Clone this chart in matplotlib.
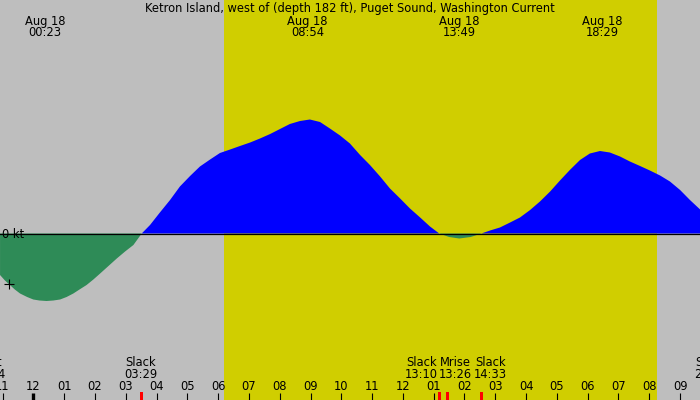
import numpy as np
import matplotlib
matplotlib.use("Agg")
import matplotlib.pyplot as plt

# --- current speed (kt), time in hours after midnight Aug 18 ---
hours = [-1.08, -0.92, -0.76, -0.60, -0.43, -0.20, 0.00, 0.20, 0.43, 0.65, 0.87, 1.08,
         1.30, 1.50, 1.73, 1.95, 2.17, 2.44, 2.71, 2.98, 3.25, 3.52,
         3.79, 4.11, 4.44, 4.76, 5.09, 5.41, 5.74, 6.06, 6.39, 6.71, 7.04, 7.36,
         7.69, 8.01, 8.33, 8.66, 8.98, 9.31, 9.63, 9.96, 10.28, 10.61, 10.93,
         11.26, 11.58, 11.91, 12.23, 12.56, 12.88, 13.18, 13.50, 13.83, 14.20,
         14.55, 14.83, 15.15, 15.48, 15.80, 16.13, 16.45, 16.78, 17.10, 17.42,
         17.75, 18.07, 18.40, 18.72, 19.05, 19.37, 19.70, 20.02, 20.35, 20.67,
         21.00, 21.32, 21.65]
speed = [-0.83, -0.94, -1.03, -1.12, -1.20, -1.27, -1.32, -1.34, -1.35, -1.34, -1.32, -1.27,
         -1.20, -1.12, -1.03, -0.92, -0.80, -0.65, -0.50, -0.36, -0.23, 0.00,
         0.17, 0.42, 0.67, 0.94, 1.15, 1.34, 1.48, 1.61, 1.68, 1.75, 1.82, 1.90,
         1.99, 2.09, 2.19, 2.25, 2.28, 2.23, 2.10, 1.96, 1.80, 1.57, 1.37,
         1.14, 0.90, 0.70, 0.50, 0.32, 0.14, 0.00, -0.07, -0.10, -0.07,
         0.00, 0.06, 0.12, 0.22, 0.32, 0.47, 0.64, 0.84, 1.06, 1.27,
         1.47, 1.60, 1.65, 1.62, 1.54, 1.44, 1.35, 1.26, 1.16, 1.04,
         0.87, 0.67, 0.48]

# max flood / max ebb labels along the top
peak_hours = [0.383, 8.900, 13.817, 18.483]
peak_labels = ["Aug 18\n00:23", "Aug 18\n08:54", "Aug 18\n13:49", "Aug 18\n18:29"]

# slack / moon events along the bottom
event_hours = [-1.433, 3.483, 13.167, 13.433, 14.550, 22.033, 23.050]
event_names = ["Mset", "Slack", "Slack", "Mrise", "Slack", "Slack", "Mset"]
event_times = ["22:34", "03:29", "13:10", "13:26", "14:33", "22:02", "23:03"]

sunrise, sunset = 6.183, 20.25

tick_hours = list(range(-1, 22))
tick_labels = ["11", "12", "01", "02", "03", "04", "05", "06", "07", "08", "09", "10",
               "11", "12", "01", "02", "03", "04", "05", "06", "07", "08", "09"]

title = "Ketron Island, west of (depth 182 ft), Puget Sound, Washington Current"

W, H = 700, 400
px_per_hour = 30.8
x0_px = 33.3          # pixel column of midnight
zero_px = 233.5       # pixel row of 0 kt
px_per_kt = 50.0
fs = 8.3

plt.rcParams['font.family'] = ['DejaVu Sans']
fig = plt.figure(figsize=(W / 100, H / 100), dpi=100)
fig.patch.set_facecolor('#bebebe')
ax = fig.add_axes([0, 0, 1, 1])
ax.set_facecolor('#bebebe')
ax.set_xlim(-x0_px / px_per_hour, (W - x0_px) / px_per_hour)
ax.set_ylim(-(H - zero_px) / px_per_kt, zero_px / px_per_kt)
ax.axis('off')

def yfrac(ypix):
    return 1 - ypix / H

tr = ax.get_xaxis_transform()

ax.axvspan(sunrise, sunset, color='#d0ce00', lw=0, zorder=0)

t = np.array(hours)
v = np.array(speed)
ax.fill_between(t, 0, v, where=v >= 0, interpolate=True, color='#0000ff', lw=0, zorder=2)
ax.fill_between(t, 0, v, where=v <= 0, interpolate=True, color='#2e8b57', lw=0, zorder=2)
ax.axhline(0, color='black', lw=0.9, zorder=3)

ax.text(-x0_px / px_per_hour + 2 / px_per_hour, -0.084, "0 kt", fontsize=fs,
        ha='left', va='baseline', zorder=4)
ax.plot([-x0_px / px_per_hour + 9.3 / px_per_hour], [-1.0], marker='+', color='black',
        markersize=7, mew=0.8, zorder=4)

ax.text(350 / px_per_hour - x0_px / px_per_hour, yfrac(12), title, fontsize=fs,
        ha='center', va='baseline', transform=tr)

for h, lab in zip(peak_hours, peak_labels):
    top, bot = lab.split("\n")
    ax.text(h, yfrac(25), top, fontsize=fs, ha='center', va='baseline', transform=tr)
    ax.text(h, yfrac(36.5), bot, fontsize=fs, ha='center', va='baseline', transform=tr)

# spread bottom event labels that would overlap
label_w = 1.12
groups = []
for h in sorted(event_hours):
    if groups and h - groups[-1][-1] < label_w + 0.05:
        groups[-1].append(h)
    else:
        groups.append([h])
label_pos = {}
for g in groups:
    mid = np.mean(g)
    for i, h in enumerate(g):
        label_pos[h] = mid + (i - (len(g) - 1) / 2) * label_w

for h, name, tm in zip(event_hours, event_names, event_times):
    lx = label_pos[h]
    ax.text(lx, yfrac(366.5), name, fontsize=fs, ha='center', va='baseline', transform=tr)
    ax.text(lx, yfrac(378), tm, fontsize=fs, ha='center', va='baseline', transform=tr)
    ax.plot([h, h], [yfrac(392), 0], color='#ff0000', lw=0.9, transform=tr, zorder=4,
            solid_capstyle='butt', antialiased=False)

for h, lab in zip(tick_hours, tick_labels):
    ax.text(h, yfrac(390), lab, fontsize=fs, ha='center', va='baseline', transform=tr)
    lw = 2.4 if h == 0 else 0.8
    ax.plot([h, h], [yfrac(393), 0], color='black', lw=lw, transform=tr, zorder=4,
            solid_capstyle='butt')

fig.savefig("out.png", dpi=100, facecolor=fig.get_facecolor())
